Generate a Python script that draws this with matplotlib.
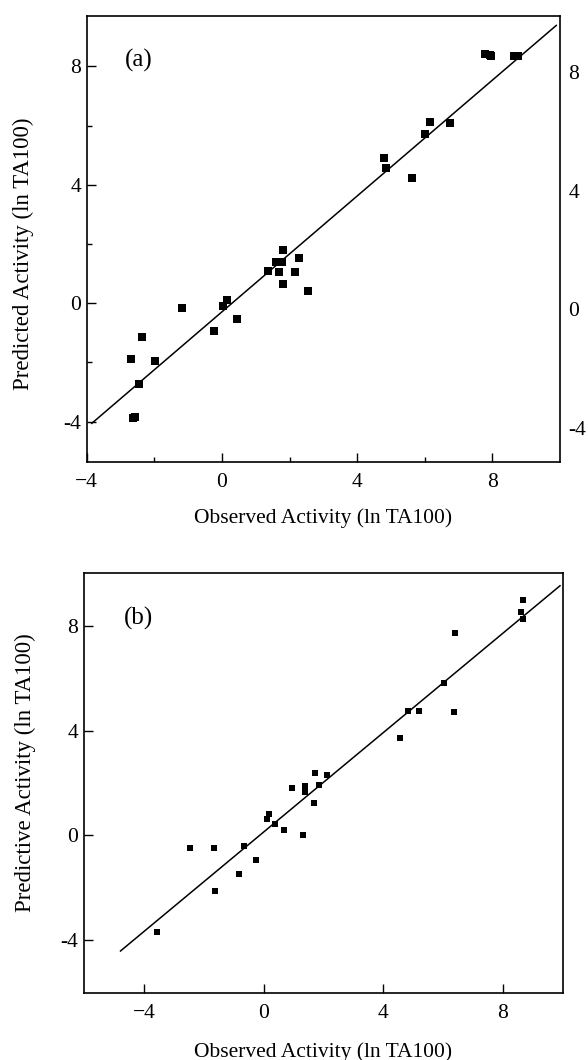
import matplotlib
matplotlib.use("Agg")
import matplotlib.pyplot as plt
import matplotlib.transforms as mtransforms
from matplotlib.ticker import FixedLocator
import numpy as np

plt.rcParams['font.family'] = ['Liberation Serif', 'DejaVu Serif']

# ---- Panel (a) data ----
obs_a = [7.77, 7.92, 7.97, 8.65, 8.75, 6.14, 6.01, 6.75, 4.78, 4.86, 5.61,
         1.82, 1.60, 1.78, 2.27, 1.35, 1.68, 2.15, 1.82, 2.54,
         -1.17, 0.02, 0.15, 0.44, -0.23, -2.37, -2.69, -1.97, -2.44, -2.62, -2.58]
pred_a = [8.40, 8.38, 8.34, 8.34, 8.36, 6.12, 5.72, 6.09, 4.90, 4.56, 4.23,
          1.80, 1.39, 1.39, 1.54, 1.09, 1.05, 1.07, 0.65, 0.42,
          -0.15, -0.09, 0.11, -0.54, -0.94, -1.13, -1.89, -1.94, -2.73, -3.86, -3.84]
fit_a_x = [-3.85, 9.89]
fit_a_coef = (0.978, -0.29)   # slope, intercept

# ---- Panel (b) data ----
obs_b = [8.67, 8.62, 8.67, 6.41, 6.04, 4.84, 5.21, 6.38, 4.55,
         1.71, 2.12, 0.96, 1.38, 1.86, 1.38, 1.69, 0.20, 0.12, 0.37, 0.70, 1.33,
         -2.45, -1.64, -0.66, -0.25, -0.81, -1.63, -3.56]
pred_b = [8.99, 8.51, 8.26, 7.72, 5.82, 4.74, 4.76, 4.70, 3.72,
          2.38, 2.29, 1.82, 1.90, 1.94, 1.65, 1.23, 0.80, 0.61, 0.45, 0.22, 0.00,
          -0.47, -0.47, -0.41, -0.95, -1.48, -2.13, -3.68]
fit_b_x = [-4.78, 9.91]
fit_b_coef = (0.9485, 0.125)

major_ticks = [-4, 0, 4, 8]
x_tick_labels = ['\u22124', '0', '4', '8']
y_tick_labels = ['-4', '0', '4', '8']
minor_ticks_a = [-2, 2, 6]

FS = 15.5

fig = plt.figure(figsize=(5.88, 10.60), dpi=100)

axA = fig.add_axes([86.7/588, 1 - 461.7/1060, (560 - 86.7)/588, (461.7 - 16)/1060])
axB = fig.add_axes([84/588, 1 - 992.7/1060, (562.7 - 84)/588, (992.7 - 573.3)/1060])


def style(ax, minor):
    for s in ax.spines.values():
        s.set_linewidth(1.2)
    ax.set_xticks(major_ticks)
    ax.set_xticklabels(x_tick_labels)
    ax.set_yticks(major_ticks)
    ax.set_yticklabels(y_tick_labels)
    if minor:
        ax.xaxis.set_minor_locator(FixedLocator(minor))
        ax.yaxis.set_minor_locator(FixedLocator(minor))
    ax.tick_params(which='major', direction='in', length=6.5, width=1.0,
                   labelsize=FS, top=False, right=False)
    ax.tick_params(which='minor', direction='in', length=3.6, width=1.0,
                   top=False, right=False)
    ax.tick_params(axis='x', pad=8)
    ax.tick_params(axis='y', pad=4)


# Panel (a)
axA.plot(obs_a, pred_a, 's', color='black', markersize=5.2, markeredgewidth=0)
xa = np.array(fit_a_x)
axA.plot(xa, fit_a_coef[0] * xa + fit_a_coef[1], color='black', lw=1.1)
axA.set_xlim(-4, 10)
axA.set_ylim(-5.35, 9.7)
style(axA, minor_ticks_a)
axA.tick_params(axis='y', labelright=True, right=False, pad=4)
offset = mtransforms.ScaledTranslation(0.03, -0.06, fig.dpi_scale_trans)
for t in axA.yaxis.get_major_ticks():
    t.label2.set_transform(t.label2.get_transform() + offset)
axA.set_xlabel('Observed Activity (ln TA100)', fontsize=FS, labelpad=12)
axA.set_ylabel('Predicted Activity (ln TA100)', fontsize=16.5)
axA.yaxis.label.set_va('center')
axA.yaxis.set_label_coords(-0.1346, 0.467)
axA.text(0.109, 0.901, '(a)', transform=axA.transAxes, fontsize=18,
         ha='center', va='center')

# Panel (b)
axB.plot(obs_b, pred_b, 's', color='black', markersize=5.0, markeredgewidth=0)
xb = np.array(fit_b_x)
axB.plot(xb, fit_b_coef[0] * xb + fit_b_coef[1], color='black', lw=1.1)
axB.set_xlim(-6, 10)
axB.set_ylim(-6, 10)
style(axB, None)
axB.set_xlabel('Observed Activity (ln TA100)', fontsize=FS, labelpad=14)
axB.set_ylabel('Predictive Activity (ln TA100)', fontsize=16.5)
axB.yaxis.label.set_va('center')
axB.yaxis.set_label_coords(-0.123, 0.524)
axB.text(0.113, 0.893, '(b)', transform=axB.transAxes, fontsize=18,
         ha='center', va='center')

fig.savefig('out.png', dpi=100)
